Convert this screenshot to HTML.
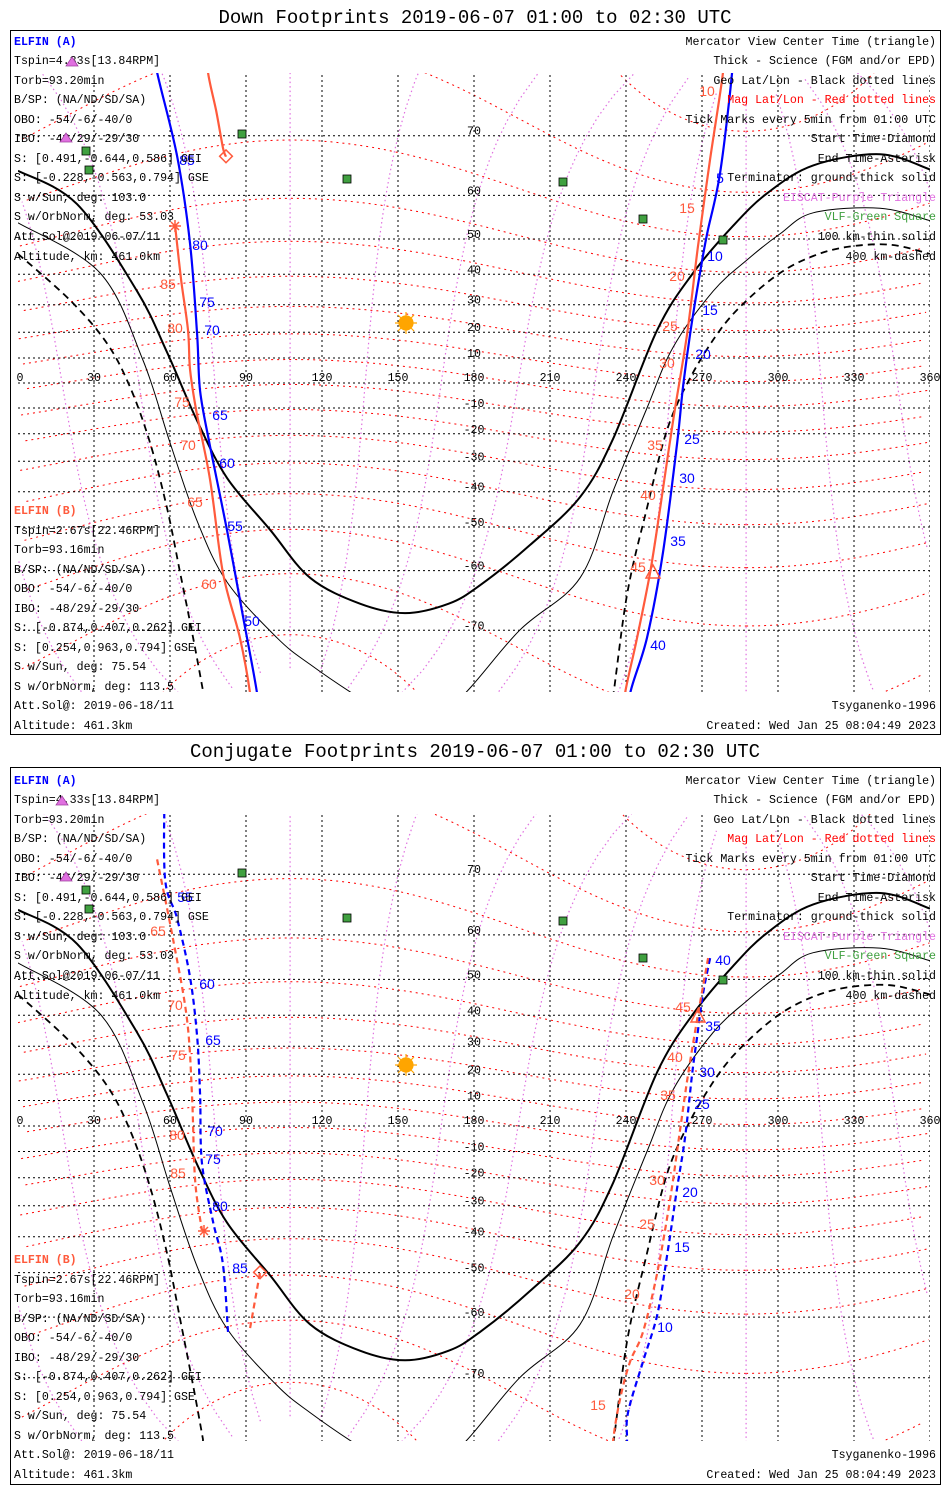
<!DOCTYPE html>
<html><head><meta charset="utf-8"><style>
html,body{margin:0;padding:0;background:#fff;width:950px;height:1500px;overflow:hidden;}
svg{display:block;font-family:"Liberation Mono",monospace;}
.t{font-size:11.6px;fill:#000;}
.tk{font-family:"Liberation Sans",sans-serif;font-size:14px;}
.ax{font-size:11.6px;fill:#000;text-anchor:middle;}
</style></head><body>
<svg id="chart" width="950" height="1500" viewBox="0 0 950 1500" xmlns="http://www.w3.org/2000/svg">
<defs>
<clipPath id="clip1"><rect x="18" y="73" width="912" height="619"/></clipPath>
<clipPath id="clip2"><rect x="18" y="814" width="912" height="627"/></clipPath>
</defs>
<rect x="0" y="0" width="950" height="1500" fill="#fff"/>
<text x="475" y="23" text-anchor="middle" font-size="19" font-family="Liberation Mono, monospace">Down Footprints 2019-06-07 01:00 to 02:30 UTC</text>
<rect x="10.5" y="30.5" width="930" height="704" fill="none" stroke="#000"/>
<text x="475" y="757" text-anchor="middle" font-size="19" font-family="Liberation Mono, monospace">Conjugate Footprints 2019-06-07 01:00 to 02:30 UTC</text>
<rect x="10.5" y="767.5" width="930" height="717" fill="none" stroke="#000"/>

<g id="map1" clip-path="url(#clip1)"></g>
<g id="map2" clip-path="url(#clip2)"></g>
<g id="axes1"></g>
<g id="axes2"></g>

<g class="tk">
<g fill="#0000ff">
<text x="187" y="165" text-anchor="middle">85</text><text x="200" y="250" text-anchor="middle">80</text>
<text x="207" y="307" text-anchor="middle">75</text><text x="212" y="335" text-anchor="middle">70</text>
<text x="220" y="420" text-anchor="middle">65</text><text x="227" y="468" text-anchor="middle">60</text>
<text x="235" y="531" text-anchor="middle">55</text><text x="252" y="626" text-anchor="middle">50</text>
<text x="720" y="183" text-anchor="middle">5</text><text x="715" y="261" text-anchor="middle">10</text>
<text x="710" y="315" text-anchor="middle">15</text><text x="703" y="359" text-anchor="middle">20</text>
<text x="692" y="444" text-anchor="middle">25</text><text x="687" y="483" text-anchor="middle">30</text>
<text x="678" y="546" text-anchor="middle">35</text><text x="658" y="650" text-anchor="middle">40</text>
</g>
<g fill="#ff5a3c">
<text x="168" y="289" text-anchor="middle">85</text><text x="175" y="333" text-anchor="middle">80</text>
<text x="182" y="407" text-anchor="middle">75</text><text x="188" y="450" text-anchor="middle">70</text>
<text x="195" y="507" text-anchor="middle">65</text><text x="209" y="589" text-anchor="middle">60</text>
<text x="707" y="96" text-anchor="middle">10</text><text x="687" y="213" text-anchor="middle">15</text>
<text x="677" y="281" text-anchor="middle">20</text><text x="670" y="331" text-anchor="middle">25</text>
<text x="667" y="368" text-anchor="middle">30</text><text x="655" y="450" text-anchor="middle">35</text>
<text x="648" y="500" text-anchor="middle">40</text><text x="638" y="572" text-anchor="middle">45</text>
</g>
</g>
<g class="tk">
<g fill="#0000ff">
<text x="185" y="902" text-anchor="middle">55</text><text x="207" y="989" text-anchor="middle">60</text>
<text x="213" y="1045" text-anchor="middle">65</text><text x="215" y="1136" text-anchor="middle">70</text>
<text x="213" y="1164" text-anchor="middle">75</text><text x="220" y="1211" text-anchor="middle">80</text>
<text x="240" y="1273" text-anchor="middle">85</text>
<text x="723" y="965" text-anchor="middle">40</text><text x="713" y="1031" text-anchor="middle">35</text>
<text x="707" y="1077" text-anchor="middle">30</text><text x="702" y="1109" text-anchor="middle">25</text>
<text x="690" y="1197" text-anchor="middle">20</text><text x="682" y="1252" text-anchor="middle">15</text>
<text x="665" y="1332" text-anchor="middle">10</text>
</g>
<g fill="#ff5a3c">
<text x="158" y="936" text-anchor="middle">65</text><text x="175" y="1010" text-anchor="middle">70</text>
<text x="178" y="1060" text-anchor="middle">75</text><text x="177" y="1140" text-anchor="middle">80</text>
<text x="178" y="1178" text-anchor="middle">85</text>
<text x="683" y="1012" text-anchor="middle">45</text><text x="675" y="1062" text-anchor="middle">40</text>
<text x="668" y="1100" text-anchor="middle">35</text><text x="657" y="1185" text-anchor="middle">30</text>
<text x="647" y="1229" text-anchor="middle">25</text><text x="632" y="1299" text-anchor="middle">20</text>
<text x="598" y="1410" text-anchor="middle">15</text>
</g>
</g>

<g>
<rect x="221" y="152" width="9" height="9" transform="rotate(45 226 157)" fill="none" stroke="#ff5a3c" stroke-width="1.5"/>
<g stroke="#ff5a3c" stroke-width="1.5"><path d="M169 226h12M175 220v12M171 222l8 8M179 222l-8 8"/></g>
<path d="M653 565 L660 578 L646 578 Z" fill="none" stroke="#ff5a3c" stroke-width="1.5"/>
</g>
<g>
<rect x="255" y="1268" width="9" height="9" transform="rotate(45 260 1273)" fill="none" stroke="#ff5a3c" stroke-width="1.5"/>
<g stroke="#ff5a3c" stroke-width="1.5"><path d="M198 1231h12M204 1225v12M200 1227l8 8M208 1227l-8 8"/></g>
<path d="M698 1009 L705 1022 L691 1022 Z" fill="none" stroke="#ff5a3c" stroke-width="1.5"/>
</g>

<g class="t">
<text x="14" y="45" fill="#0000ff" font-weight="bold">ELFIN (A)</text>
<text x="14" y="64">Tspin=4.33s[13.84RPM]</text>
<text x="14" y="84">Torb=93.20min</text>
<text x="14" y="103">B/SP: (NA/ND/SD/SA)</text>
<text x="14" y="123">OBO: -54/-6/-40/0</text>
<text x="14" y="142">IBO: -48/29/-29/30</text>
<text x="14" y="162">S: [0.491,-0.644,0.586] GEI</text>
<text x="14" y="181">S: [-0.228,-0.563,0.794] GSE</text>
<text x="14" y="201">S w/Sun, deg: 103.0</text>
<text x="14" y="220">S w/OrbNorm, deg: 53.03</text>
<text x="14" y="240">Att.Sol@2019-06-07/11</text>
<text x="14" y="260">Altitude, km: 461.0km</text>
</g>
<g class="t">
<text x="14" y="514" fill="#ff5a3c" font-weight="bold">ELFIN (B)</text>
<text x="14" y="534">Tspin=2.67s[22.46RPM]</text>
<text x="14" y="553">Torb=93.16min</text>
<text x="14" y="573">B/SP: (NA/ND/SD/SA)</text>
<text x="14" y="592">OBO: -54/-6/-40/0</text>
<text x="14" y="612">IBO: -48/29/-29/30</text>
<text x="14" y="631">S: [-0.874,0.407,0.262] GEI</text>
<text x="14" y="651">S: [0.254,0.963,0.794] GSE</text>
<text x="14" y="670">S w/Sun, deg: 75.54</text>
<text x="14" y="690">S w/OrbNorm, deg: 113.5</text>
<text x="14" y="709">Att.Sol@: 2019-06-18/11</text>
<text x="14" y="729">Altitude: 461.3km</text>
</g>
<g class="t" text-anchor="end">
<text x="936" y="45">Mercator View Center Time (triangle)</text>
<text x="936" y="64">Thick - Science (FGM and/or EPD)</text>
<text x="936" y="84">Geo Lat/Lon - Black dotted lines</text>
<text x="936" y="103" fill="#ff0000">Mag Lat/Lon - Red dotted lines</text>
<text x="936" y="123">Tick Marks every 5min from 01:00 UTC</text>
<text x="936" y="142">Start Time-Diamond</text>
<text x="936" y="162">End Time-Asterisk</text>
<text x="936" y="181">Terminator: ground-thick solid</text>
<text x="936" y="201" fill="#e070e0">EISCAT-Purple Triangle</text>
<text x="936" y="220" fill="#40a040">VLF-Green Square</text>
<text x="936" y="240">100 km-thin solid</text>
<text x="936" y="260">400 km-dashed</text>
<text x="936" y="709">Tsyganenko-1996</text>
<text x="936" y="729">Created: Wed Jan 25 08:04:49 2023</text>
</g>

<g class="t" transform="translate(0,739)">
<text x="14" y="45" fill="#0000ff" font-weight="bold">ELFIN (A)</text>
<text x="14" y="64">Tspin=4.33s[13.84RPM]</text>
<text x="14" y="84">Torb=93.20min</text>
<text x="14" y="103">B/SP: (NA/ND/SD/SA)</text>
<text x="14" y="123">OBO: -54/-6/-40/0</text>
<text x="14" y="142">IBO: -48/29/-29/30</text>
<text x="14" y="162">S: [0.491,-0.644,0.586] GEI</text>
<text x="14" y="181">S: [-0.228,-0.563,0.794] GSE</text>
<text x="14" y="201">S w/Sun, deg: 103.0</text>
<text x="14" y="220">S w/OrbNorm, deg: 53.03</text>
<text x="14" y="240">Att.Sol@2019-06-07/11</text>
<text x="14" y="260">Altitude, km: 461.0km</text>
</g>
<g class="t" transform="translate(0,749)">
<text x="14" y="514" fill="#ff5a3c" font-weight="bold">ELFIN (B)</text>
<text x="14" y="534">Tspin=2.67s[22.46RPM]</text>
<text x="14" y="553">Torb=93.16min</text>
<text x="14" y="573">B/SP: (NA/ND/SD/SA)</text>
<text x="14" y="592">OBO: -54/-6/-40/0</text>
<text x="14" y="612">IBO: -48/29/-29/30</text>
<text x="14" y="631">S: [-0.874,0.407,0.262] GEI</text>
<text x="14" y="651">S: [0.254,0.963,0.794] GSE</text>
<text x="14" y="670">S w/Sun, deg: 75.54</text>
<text x="14" y="690">S w/OrbNorm, deg: 113.5</text>
<text x="14" y="709">Att.Sol@: 2019-06-18/11</text>
<text x="14" y="729">Altitude: 461.3km</text>
</g>
<g class="t" text-anchor="end" transform="translate(0,739)">
<text x="936" y="45">Mercator View Center Time (triangle)</text>
<text x="936" y="64">Thick - Science (FGM and/or EPD)</text>
<text x="936" y="84">Geo Lat/Lon - Black dotted lines</text>
<text x="936" y="103" fill="#ff0000">Mag Lat/Lon - Red dotted lines</text>
<text x="936" y="123">Tick Marks every 5min from 01:00 UTC</text>
<text x="936" y="142">Start Time-Diamond</text>
<text x="936" y="162">End Time-Asterisk</text>
<text x="936" y="181">Terminator: ground-thick solid</text>
<text x="936" y="201" fill="#e070e0">EISCAT-Purple Triangle</text>
<text x="936" y="220" fill="#40a040">VLF-Green Square</text>
<text x="936" y="240">100 km-thin solid</text>
<text x="936" y="260">400 km-dashed</text>
<text x="936" y="719">Tsyganenko-1996</text>
<text x="936" y="739">Created: Wed Jan 25 08:04:49 2023</text>
</g>

<g stroke="#ffa500" stroke-width="1.2">
<path d="M395 323h22M406 312v22M398 315l16 16M414 315l-16 16"/><circle cx="406" cy="323" r="7" fill="#ffa500"/></g>
<g stroke="#ffa500" stroke-width="1.2">
<path d="M395 1065h22M406 1054v22M398 1057l16 16M414 1057l-16 16"/><circle cx="406" cy="1065" r="7" fill="#ffa500"/></g>
<g fill="#e070e0" stroke="#a040a0" stroke-width="0.8">
<path d="M72 57l6 9h-12z"/><path d="M66 133l6 9h-12z"/>
<path d="M62 796l6 9h-12z"/><path d="M66 872l6 9h-12z"/>
</g>
<g fill="#40a040" stroke="#000" stroke-width="0.8">
<rect x="238" y="130" width="8" height="8"/><rect x="82" y="147" width="8" height="8"/><rect x="85" y="166" width="8" height="8"/><rect x="343" y="175" width="8" height="8"/><rect x="559" y="178" width="8" height="8"/><rect x="639" y="215" width="8" height="8"/><rect x="719" y="236" width="8" height="8"/>
<rect x="238" y="869" width="8" height="8"/><rect x="82" y="886" width="8" height="8"/><rect x="85" y="905" width="8" height="8"/><rect x="343" y="914" width="8" height="8"/><rect x="559" y="917" width="8" height="8"/><rect x="639" y="954" width="8" height="8"/><rect x="719" y="976" width="8" height="8"/>
</g>
</svg>
<script>
const termLon = [0,23.3,47,58.8,70.7,82.5,99.5,115.3,135,152.8,170,182.4,202,221.9,234.9,252.3,266.5,282.3,295.7,313.9,340.3,360];
const termLat = [64.6,58.2,34.6,12.3,-15,-35.6,-50.7,-61.4,-66,-67.5,-66,-62.8,-54.5,-41.6,-21.9,20.8,40.4,53.3,60.4,65.5,67.3,64.8];
const t100Lon = [0,32.4,49.3,60,70.7,82.5,102.2,115.3,135,152,172,198,221.9,234.9,248.3,258.6,274.4,287.8,300.8,313.9,340.3,360];
const t100Lat = [54,40.4,9.2,-23.3,-48.4,-62.2,-71,-74.2,-77.5,-79.5,-78,-70,-61.4,-39.8,-10,14.2,34.6,44.3,51.3,56.3,57.3,54.5];
const t400Lon = [0,20.5,35.1,44.2,52.1,58.8,64,69.1,73,75.8,230,233.7,240.4,248.3,256.2,265.3,277.1,287.8,300.8,313.9,327.3,344.2,360];
const t400Lat = [46,31.6,15.8,-1.6,-23.3,-44.8,-60.4,-71,-76.8,-80,-80,-79,-64.5,-44.8,-18.6,2,20.8,31.6,40.4,45.4,47.9,48.5,46];
const downA1Lon = [52.5,54.9,62.8,67.9,70.7,71.9,75.8,82.5,88.8,94.4,95.5];
const downA1Lat = [80,77.1,67,48.9,19.3,-3.2,-24.6,-50.8,-68,-77.1,-80];
const downB1Lon = [74,75,78.2,80.9,82.1];
const downB1Lat = [80,77.1,73.2,68.3,66.9];
const downB2Lon = [62,64.4,67.1,67.9,70.3,75.8,80.9,87.6,91.6,92.5];
const downB2Lat = [53.3,38.3,20.8,5.6,-10.7,-36.1,-60.4,-71,-77.1,-80];
const downA2Lon = [282.5,281.9,277.1,272,269.2,265.3,262.5,260.2,254.6,248.3,241.6,240.5];
const downA2Lat = [80,77.1,64.1,51.3,40.4,19.3,-1.6,-23.3,-56.1,-71,-77.1,-80];
const downB3Lon = [279,278.3,273.2,268.4,264.1,258.6,253.5,249.5,244.4,239.6,238.5];
const downB3Lat = [80,77.1,66.5,47.9,19.3,-15,-44.8,-60.4,-71,-77.1,-80];
const conjA1Lon = [58,58,62.8,67.9,70.7,71.9,72.6,77,80.9,82.9];
const conjA1Lat = [80,69.6,63.1,50.6,33.4,12.1,-14.3,-35.4,-47.8,-62.8];
const conjB1Lon = [54.9,61.2,66.7,68.7,69.9,72.6];
const conjB1Lat = [71.9,59.2,38.8,12.1,-20.8,-38];
const conjB2Lon = [95.5,91.6];
const conjB2Lat = [-50.1,-62.1];
const conjA2Lon = [273.2,270.4,268.1,266.1,263.3,260.2,256.2,252.3,246.7,240.8,240.4,240.2];
const conjA2Lat = [55.1,46.2,33.4,20,-4.7,-23.6,-45.6,-59.6,-67.7,-74.2,-77,-80];
const conjB3Lon = [272.4,268.4,264.5,261.4,257.4,252.3,246.7,241.6,237.7,234.9,234.3];
const conjB3Lat = [55.1,40.1,20,-1.2,-27.9,-50.1,-62.8,-67.7,-72.6,-77,-80];
const lonTicks = [0,30,60,90,120,150,180,210,240,270,300,330,360];
const latTicks = [70,60,50,40,30,20,10,-10,-20,-30,-40,-50,-60,-70];

const NS='http://www.w3.org/2000/svg';
const D=Math.PI/180;
const panels=[{g:'map1',ax:'axes1',y0:383,k:142.5},{g:'map2',ax:'axes2',y0:1126,k:145.1}];
function xOf(lon){return 18+lon*912/360;}
function yOf(lat,p){const l=Math.max(-85,Math.min(85,lat));return p.y0-p.k*Math.log(Math.tan(Math.PI/4+l*D/2));}
function mk(tag,attrs,parent){const e=document.createElementNS(NS,tag);for(const a in attrs)e.setAttribute(a,attrs[a]);parent.appendChild(e);return e;}
function smoothSeg(pts){
  if(pts.length<3){return pts.map((q,i)=>(i?'L':'M')+q[0].toFixed(1)+' '+q[1].toFixed(1)).join('');}
  let d='M'+pts[0][0].toFixed(1)+' '+pts[0][1].toFixed(1);
  for(let i=0;i<pts.length-1;i++){
    const p0=pts[Math.max(0,i-1)],p1=pts[i],p2=pts[i+1],p3=pts[Math.min(pts.length-1,i+2)];
    const c1=[p1[0]+(p2[0]-p0[0])/6,p1[1]+(p2[1]-p0[1])/6],c2=[p2[0]-(p3[0]-p1[0])/6,p2[1]-(p3[1]-p1[1])/6];
    d+='C'+c1[0].toFixed(1)+' '+c1[1].toFixed(1)+' '+c2[0].toFixed(1)+' '+c2[1].toFixed(1)+' '+p2[0].toFixed(1)+' '+p2[1].toFixed(1);
  }
  return d;
}
function pathFrom(lons,lats,p,smooth){
  const segs=[];let cur=[];
  for(let i=0;i<lons.length;i++){
    if(i>0&&Math.abs(lons[i]-lons[i-1])>180){segs.push(cur);cur=[];}
    cur.push([xOf(lons[i]),yOf(lats[i],p)]);
  }
  segs.push(cur);
  return segs.map(s=>smooth?smoothSeg(s):s.map((q,i)=>(i?'L':'M')+q[0].toFixed(1)+' '+q[1].toFixed(1)).join('')).join('');
}
function magToGeo(mlat,mlon){const th=(90-mlat)*D,ph=mlon*D;const x=Math.sin(th)*Math.cos(ph),y=Math.sin(th)*Math.sin(ph),z=Math.cos(th);const tp=9.4*D,lp=287.4*D;const x1=x*Math.cos(tp)+z*Math.sin(tp),z1=-x*Math.sin(tp)+z*Math.cos(tp);const X=x1*Math.cos(lp)-y*Math.sin(lp),Y=x1*Math.sin(lp)+y*Math.cos(lp);let lon=Math.atan2(Y,X)/D;lon=((lon%360)+360)%360;return [lon,Math.asin(Math.max(-1,Math.min(1,z1)))/D];}

panels.forEach((p,pi)=>{
  const g=document.getElementById(p.g);
  const ax=document.getElementById(p.ax);
  for(let ml=-80;ml<=80;ml+=10){const lo=[],la=[];for(let m=0;m<=360;m+=4){const r=magToGeo(ml,m);lo.push(r[0]);la.push(r[1]);}
    const e=mk('path',{d:pathFrom(lo,la,p,false),fill:'none',stroke:'#ff0000','stroke-width':1,'stroke-dasharray':'2,4'},g);
    
    }
  for(let mm=0;mm<360;mm+=30){const lo=[],la=[];for(let ml=-84;ml<=84;ml+=3){const r=magToGeo(ml,mm);lo.push(r[0]);la.push(r[1]);}
    const e=mk('path',{d:pathFrom(lo,la,p,false),fill:'none',stroke:'#e070e0','stroke-width':1.2,'stroke-dasharray':'1.5,3'},g);
    
    }
  for(let lat=-70;lat<=70;lat+=10){const y=yOf(lat,p);
    const e=mk('line',{x1:18,x2:930,y1:y,y2:y,stroke:'#000','stroke-width':1,'stroke-dasharray':'2,3'},g);
    
    }
  for(let lon=30;lon<=360;lon+=30){const x=xOf(lon);
    const e=mk('line',{x1:x,x2:x,y1:0,y2:1500,stroke:'#000','stroke-width':1,'stroke-dasharray':'2,3'},g);
    
    }
  const tl=[[termLon,termLat,2,'none','terminator-ground'],[t100Lon,t100Lat,1,'none','terminator-100km'],[t400Lon,t400Lat,1.8,'7,5','terminator-400km']];
  tl.forEach(s=>{const e=mk('path',{d:pathFrom(s[0],s[1],p,true),fill:'none',stroke:'#000','stroke-width':s[2],'stroke-dasharray':s[3]},g);
    
    });
  const tr=pi===0?[[downA1Lon,downA1Lat,'#0000ff','track-a-west'],[downB1Lon,downB1Lat,'#ff5a3c','track-b-start'],[downB2Lon,downB2Lat,'#ff5a3c','track-b-west'],[downA2Lon,downA2Lat,'#0000ff','track-a-east'],[downB3Lon,downB3Lat,'#ff5a3c','track-b-east']]
    :[[conjA1Lon,conjA1Lat,'#0000ff','track-a-west'],[conjB1Lon,conjB1Lat,'#ff5a3c','track-b-west'],[conjB2Lon,conjB2Lat,'#ff5a3c','track-b-start'],[conjA2Lon,conjA2Lat,'#0000ff','track-a-east'],[conjB3Lon,conjB3Lat,'#ff5a3c','track-b-east']];
  tr.forEach(s=>{const e=mk('path',{d:pathFrom(s[0],s[1],p,true),fill:'none',stroke:s[2],'stroke-width':2.2,'stroke-dasharray':pi===0?'none':'6,4'},g);
    
    });
  const ye=yOf(0,p);
  lonTicks.forEach(v=>{const t=mk('text',{x:xOf(v)+(v===0?2:0),y:ye-2,class:'ax'},ax);t.textContent=String(v);
    
    });
  latTicks.forEach(v=>{const t=mk('text',{x:474,y:yOf(v,p)-1,class:'ax'},ax);t.textContent=String(v);
    
    });
});
</script>
</body></html>
